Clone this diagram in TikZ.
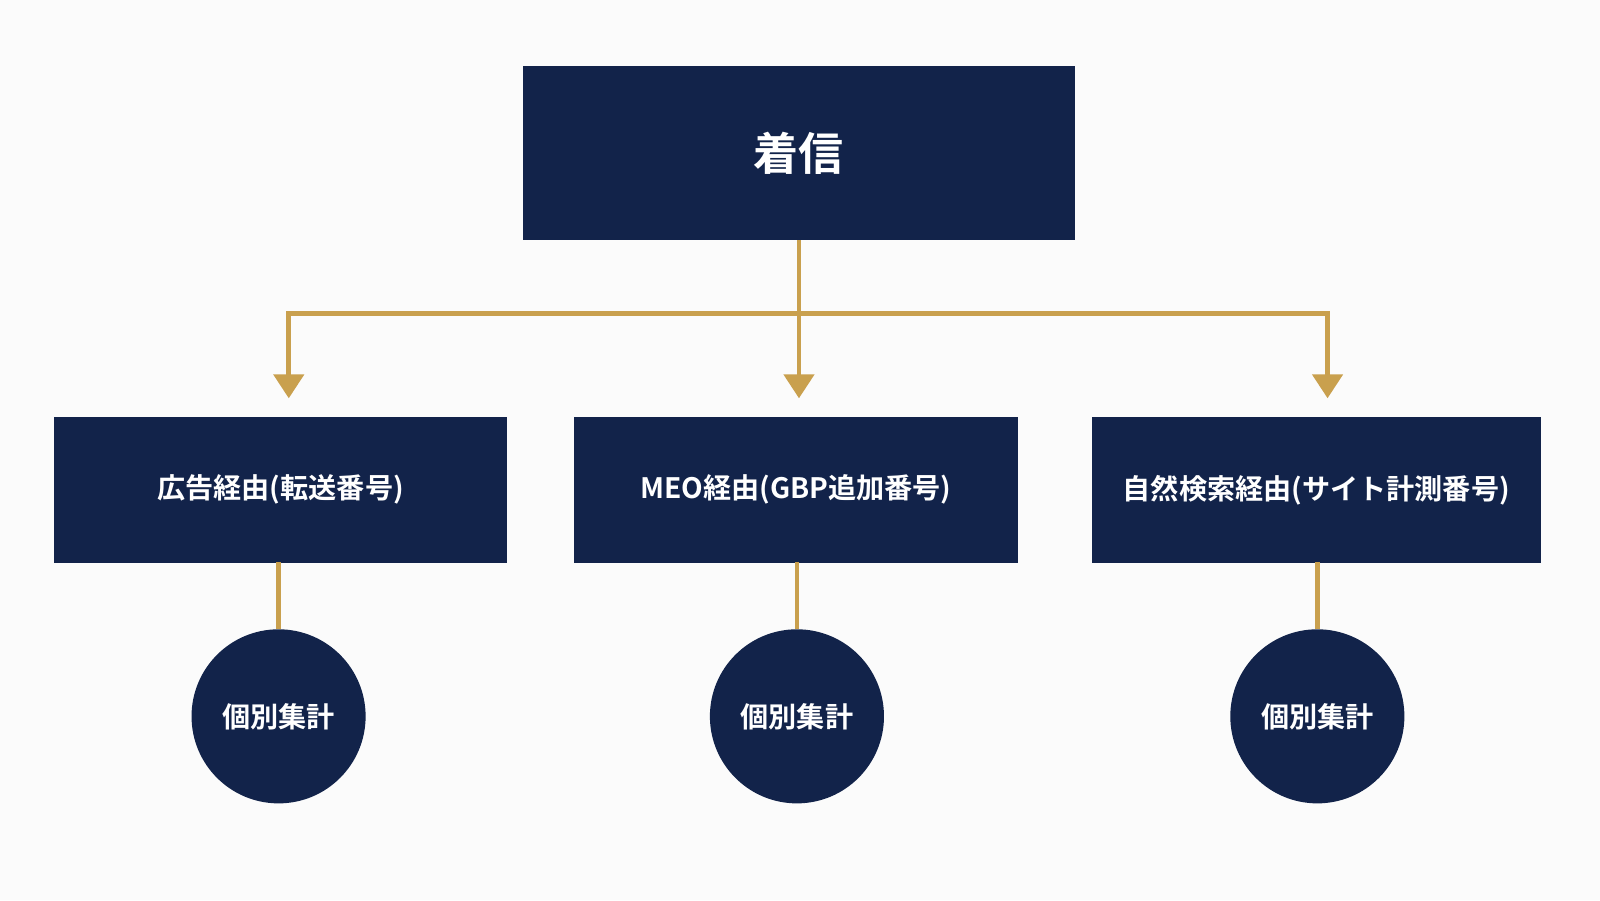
\documentclass[tikz,border=0pt]{standalone}
\usepackage{fontspec}
\setmainfont{Noto Sans CJK JP Bold}
\usetikzlibrary{arrows.meta}
\definecolor{navy}{HTML}{12234A}
\definecolor{gold}{HTML}{C9A04E}
\tikzstyle{box} = [rectangle, fill=navy, text=white, inner sep=0pt, font=\fontsize{20}{24}\selectfont]
\tikzstyle{total} = [circle, fill=navy, text=white, minimum size=4.35cm, inner sep=0pt, font=\fontsize{20}{24}\selectfont]
\tikzstyle{arrow} = [gold, line width=1.2mm, -{Triangle[width=7.5mm,length=6mm]}, shorten >=4.5mm]
\tikzstyle{link} = [gold, line width=1.2mm]

\begin{document}
\begin{tikzpicture}[x=0.0255cm, y=-0.0255cm]
\fill[white!97!gray] (0,0) rectangle (1568,882);
\useasboundingbox (0,0) rectangle (1568,882);

%% NODES

\node (top) [box, minimum width=13.77cm, minimum height=4.34cm, font=\fontsize{32}{38}\selectfont] at (783,150) {着信};
\node (ad) [box, minimum width=11.32cm, minimum height=3.65cm] at (275,480) {広告経由(転送番号)};
\node (meo) [box, minimum width=11.09cm, minimum height=3.65cm] at (780,480) {MEO経由(GBP追加番号)};
\node (seo) [box, minimum width=11.22cm, minimum height=3.65cm] at (1290,480) {自然検索経由(サイト計測番号)};
\node (c1) [total] at (273,702) {個別集計};
\node (c2) [total] at (781,702) {個別集計};
\node (c3) [total] at (1291,702) {個別集計};
\coordinate (split) at (783,307);

%% ARROWS

\draw [link] (top.south) -- (split);
\draw [arrow] (split) -| (283,408);
\draw [arrow] (split) -- (783,408);
\draw [arrow] (split) -| (1301,408);
\draw [link] (273,551) -- (c1);
\draw [link] (781,551) -- (c2);
\draw [link] (1291,551) -- (c3);

\end{tikzpicture}
\end{document}
